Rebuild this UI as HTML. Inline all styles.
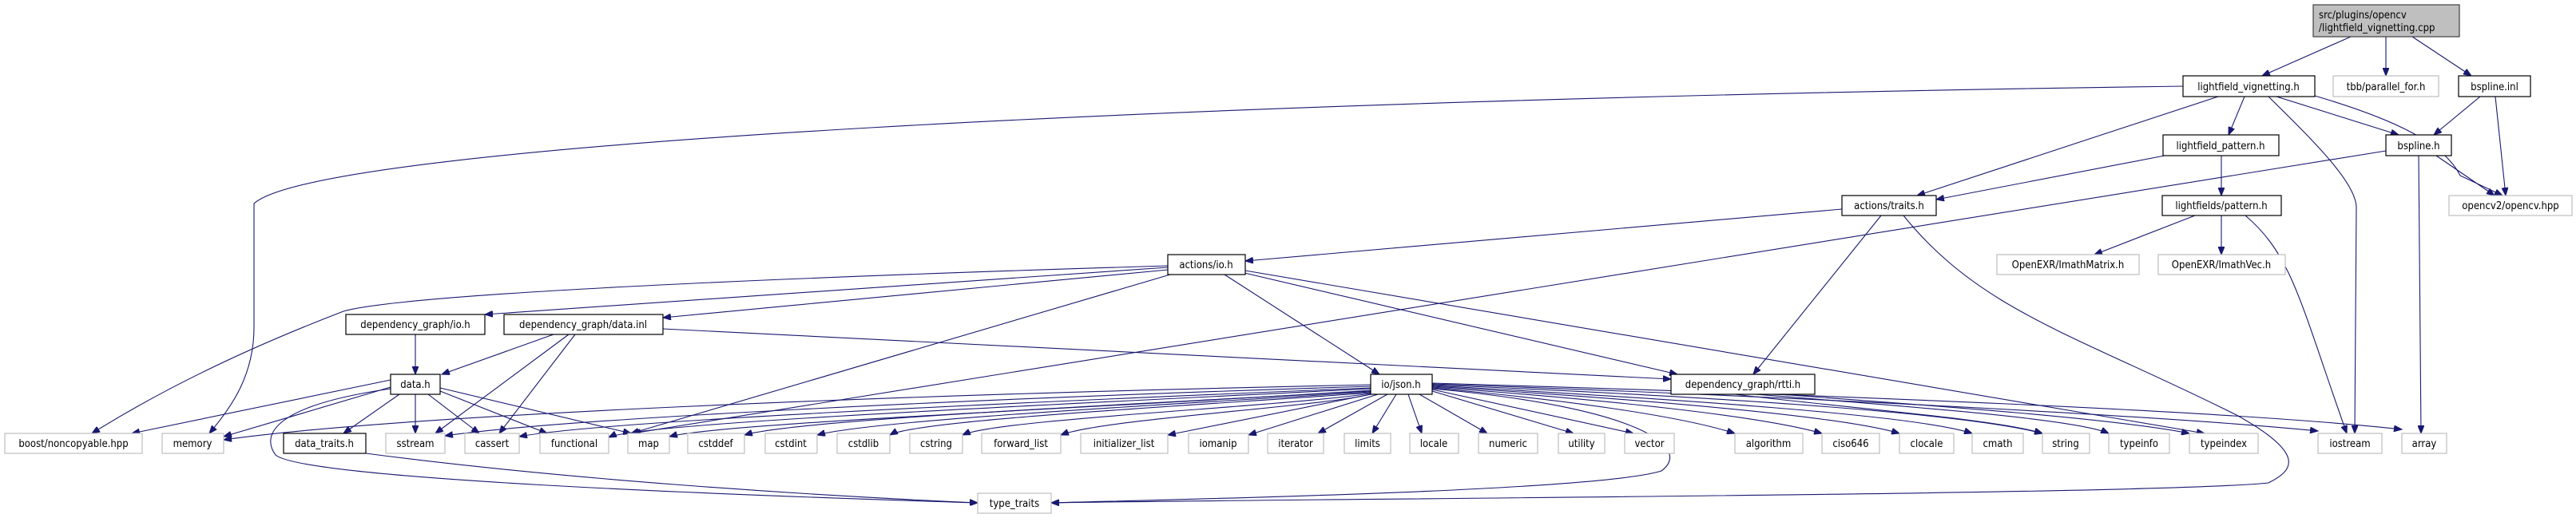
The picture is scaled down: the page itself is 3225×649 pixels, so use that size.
<!DOCTYPE html>
<html><head><meta charset="utf-8"><style>
html,body{margin:0;padding:0;background:#fff;width:3225px;height:649px;overflow:hidden}
svg{display:block}
text{font-family:"DejaVu Sans Condensed","DejaVu Sans","Liberation Sans",sans-serif;font-size:13px;fill:#000;text-anchor:middle}
.e{fill:none;stroke:#191970;stroke-width:1.1}
.b{fill:#fff;stroke:#000;stroke-width:1.2}
.g{fill:#fff;stroke:#bfbfbf;stroke-width:1.2}
</style></head><body>
<svg width="3225" height="649" viewBox="0 0 3225 649" xmlns="http://www.w3.org/2000/svg">
<defs><marker id="a" markerWidth="11" markerHeight="8" refX="10" refY="4" orient="auto" markerUnits="userSpaceOnUse"><path d="M0,0 L10,4 L0,8 Z" fill="#191970" stroke="#191970"/></marker></defs>
<g class="e" marker-end="url(#a)">
<path d="M2943,46 L2832,95"/>
<path d="M2987,46 L2987,95"/>
<path d="M3020,46 L3094,95"/>
<path d="M2733,108 C1500,125 400,180 318,255 L318,410 C318,470 290,510 262,543"/>
<path d="M2777,121 L2400,245"/>
<path d="M2810,121 L2790,169"/>
<path d="M2840,121 C2900,180 2950,230 2950,260 L2948,543"/>
<path d="M2850,121 L3003,169"/>
<path d="M2898,120 C3000,150 3060,180 3080,220 L3133,245"/>
<path d="M3105,121 L3047,169"/>
<path d="M3124,121 L3137,245"/>
<path d="M3050,195 L3123,245"/>
<path d="M3028,195 L3031,543"/>
<path d="M2987,189 L792,543"/>
<path d="M2710,195 L2424,250"/>
<path d="M2781,195 L2781,245"/>
<path d="M2748,270 L2622,319"/>
<path d="M2781,270 L2781,319"/>
<path d="M2811,270 C2870,320 2880,380 2938,543"/>
<path d="M2306,262 L1559,327"/>
<path d="M2355,270 L2195,469"/>
<path d="M2383,270 C2480,390 2600,420 2800,520 C2890,570 2870,590 2840,605 C2700,620 1600,625 1316,630"/>
<path d="M1462,333 C900,350 500,370 430,390 C300,440 200,490 115,543"/>
<path d="M1462,335 L607,394"/>
<path d="M1462,338 L830,398"/>
<path d="M1465,344 L790,543"/>
<path d="M1533,344 L1727,469"/>
<path d="M1558,342 L2100,469"/>
<path d="M1559,339 L2760,543"/>
<path d="M520,419 L520,469"/>
<path d="M693,419 L553,469"/>
<path d="M712,419 L545,543"/>
<path d="M720,419 L625,543"/>
<path d="M830,412 L2092,475"/>
<path d="M489,476 L165,543"/>
<path d="M489,485 L280,547"/>
<path d="M500,494 L430,543"/>
<path d="M520,494 L520,543"/>
<path d="M536,494 L600,543"/>
<path d="M551,490 L685,543"/>
<path d="M551,486 L790,543"/>
<path d="M489,487 C330,510 330,550 345,570 C380,600 900,620 1224,630"/>
<path d="M458,568 C700,600 1000,620 1224,630"/>
<path d="M1716,482 C1100,495 500,520 280,551"/>
<path d="M1716,484 C1200,500 700,525 557,546"/>
<path d="M1716,486 C1250,505 750,528 650,547"/>
<path d="M1716,487 C1300,508 800,530 762,548"/>
<path d="M1716,489 C1400,510 900,530 838,547"/>
<path d="M1716,490 C1450,505 1000,525 932,545"/>
<path d="M1716,491 C1500,505 1100,525 1023,545"/>
<path d="M1716,492 C1550,505 1150,525 1114,545"/>
<path d="M1716,493 C1600,510 1250,525 1205,545"/>
<path d="M1716,494 C1650,510 1380,525 1328,545"/>
<path d="M1716,494 L1462,545"/>
<path d="M1725,494 L1563,545"/>
<path d="M1737,494 L1650,543"/>
<path d="M1748,494 L1718,543"/>
<path d="M1763,494 L1780,543"/>
<path d="M1777,494 L1862,543"/>
<path d="M1793,490 L1970,543"/>
<path d="M1793,488 L2045,543"/>
<path d="M1793,486 C1950,500 2100,520 2172,543"/>
<path d="M1793,485 C2000,500 2200,520 2281,543"/>
<path d="M1793,484 C2050,500 2300,520 2378,543"/>
<path d="M1793,483 C2100,500 2400,520 2469,543"/>
<path d="M1793,482 C2100,495 2450,515 2557,543"/>
<path d="M1793,481 C2200,495 2700,520 2902,540"/>
<path d="M1793,480 C2300,495 2800,515 3007,538"/>
<path d="M1793,487 C2050,510 2120,560 2080,590 C2000,615 1500,625 1316,630"/>
<path d="M2172,494 C2300,510 2500,525 2557,543"/>
<path d="M2172,492 C2400,510 2600,525 2640,543"/>
<path d="M2172,490 C2450,510 2650,525 2741,543"/>
</g>
<rect x="2896" y="6" width="183" height="40" fill="#bfbfbf" stroke="#404040" stroke-width="1.2"/>
<text x="2903" y="23" style="text-anchor:start">src/plugins/opencv</text>
<text x="2903" y="39" style="text-anchor:start">/lightfield_vignetting.cpp</text>
<rect class="b" x="2733" y="95" width="165" height="26"/><text x="2815" y="113">lightfield_vignetting.h</text>
<rect class="g" x="2921" y="95" width="132" height="26"/><text x="2987" y="113">tbb/parallel_for.h</text>
<rect class="b" x="3078" y="95" width="90" height="26"/><text x="3123" y="113">bspline.inl</text>
<rect class="b" x="2708" y="169" width="145" height="26"/><text x="2780" y="187">lightfield_pattern.h</text>
<rect class="b" x="2987" y="169" width="82" height="26"/><text x="3028" y="187">bspline.h</text>
<rect class="b" x="2306" y="245" width="118" height="25"/><text x="2365" y="262">actions/traits.h</text>
<rect class="b" x="2707" y="245" width="149" height="25"/><text x="2781" y="262">lightfields/pattern.h</text>
<rect class="g" x="3066" y="245" width="154" height="25"/><text x="3143" y="262">opencv2/opencv.hpp</text>
<rect class="g" x="2500" y="319" width="178" height="25"/><text x="2589" y="336">OpenEXR/ImathMatrix.h</text>
<rect class="g" x="2702" y="319" width="159" height="25"/><text x="2781" y="336">OpenEXR/ImathVec.h</text>
<rect class="b" x="1462" y="319" width="97" height="25"/><text x="1510" y="336">actions/io.h</text>
<rect class="b" x="433" y="394" width="174" height="25"/><text x="520" y="411">dependency_graph/io.h</text>
<rect class="b" x="631" y="394" width="199" height="25"/><text x="730" y="411">dependency_graph/data.inl</text>
<rect class="b" x="489" y="469" width="62" height="25"/><text x="520" y="486">data.h</text>
<rect class="b" x="1716" y="469" width="77" height="25"/><text x="1754" y="486">io/json.h</text>
<rect class="b" x="2092" y="469" width="180" height="25"/><text x="2182" y="486">dependency_graph/rtti.h</text>
<g>
<rect class="g" x="6" y="543" width="172" height="25"/><text x="92" y="560">boost/noncopyable.hpp</text>
<rect class="g" x="203" y="543" width="77" height="25"/><text x="241" y="560">memory</text>
<rect class="b" x="355" y="543" width="103" height="25"/><text x="406" y="560">data_traits.h</text>
<rect class="g" x="483" y="543" width="74" height="25"/><text x="520" y="560">sstream</text>
<rect class="g" x="582" y="543" width="68" height="25"/><text x="616" y="560">cassert</text>
<rect class="g" x="676" y="543" width="86" height="25"/><text x="719" y="560">functional</text>
<rect class="g" x="786" y="543" width="52" height="25"/><text x="812" y="560">map</text>
<rect class="g" x="861" y="543" width="71" height="25"/><text x="896" y="560">cstddef</text>
<rect class="g" x="958" y="543" width="65" height="25"/><text x="990" y="560">cstdint</text>
<rect class="g" x="1048" y="543" width="66" height="25"/><text x="1081" y="560">cstdlib</text>
<rect class="g" x="1139" y="543" width="66" height="25"/><text x="1172" y="560">cstring</text>
<rect class="g" x="1229" y="543" width="99" height="25"/><text x="1278" y="560">forward_list</text>
<rect class="g" x="1353" y="543" width="109" height="25"/><text x="1407" y="560">initializer_list</text>
<rect class="g" x="1488" y="543" width="75" height="25"/><text x="1525" y="560">iomanip</text>
<rect class="g" x="1587" y="543" width="70" height="25"/><text x="1622" y="560">iterator</text>
<rect class="g" x="1683" y="543" width="58" height="25"/><text x="1712" y="560">limits</text>
<rect class="g" x="1765" y="543" width="61" height="25"/><text x="1795" y="560">locale</text>
<rect class="g" x="1851" y="543" width="74" height="25"/><text x="1888" y="560">numeric</text>
<rect class="g" x="1951" y="543" width="58" height="25"/><text x="1980" y="560">utility</text>
<rect class="g" x="2034" y="543" width="62" height="25"/><text x="2065" y="560">vector</text>
<rect class="g" x="2172" y="543" width="85" height="25"/><text x="2214" y="560">algorithm</text>
<rect class="g" x="2281" y="543" width="72" height="25"/><text x="2317" y="560">ciso646</text>
<rect class="g" x="2378" y="543" width="68" height="25"/><text x="2412" y="560">clocale</text>
<rect class="g" x="2469" y="543" width="64" height="25"/><text x="2501" y="560">cmath</text>
<rect class="g" x="2557" y="543" width="59" height="25"/><text x="2586" y="560">string</text>
<rect class="g" x="2640" y="543" width="76" height="25"/><text x="2678" y="560">typeinfo</text>
<rect class="g" x="2741" y="543" width="86" height="25"/><text x="2784" y="560">typeindex</text>
<rect class="g" x="2902" y="543" width="80" height="25"/><text x="2942" y="560">iostream</text>
<rect class="g" x="3007" y="543" width="56" height="25"/><text x="3035" y="560">array</text>
<rect class="g" x="1224" y="618" width="92" height="25"/><text x="1270" y="635">type_traits</text>
</g>
</svg>
</body></html>
